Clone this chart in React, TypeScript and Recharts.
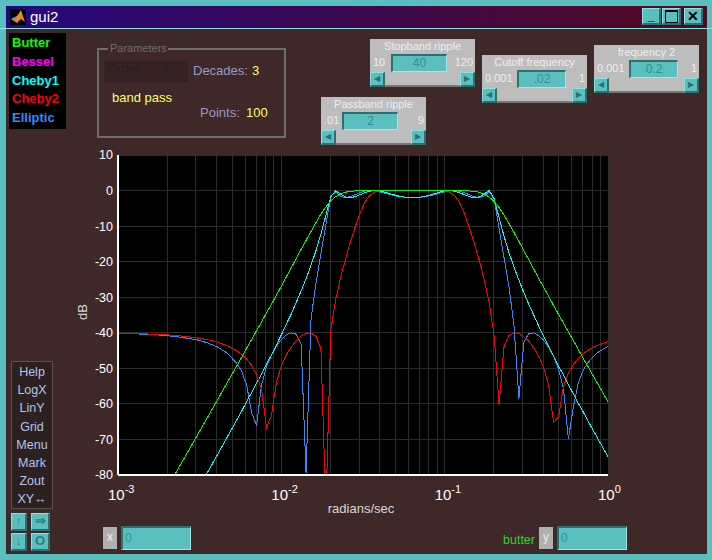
import { LineChart, Line, XAxis, YAxis, CartesianGrid } from 'recharts'
import type { CSSProperties, ReactNode } from 'react'

const FREQ = [
  0.001, 0.00132, 0.00175, 0.00231, 0.00305, 0.00351, 0.00404, 0.00464, 0.00534, 0.00572, 0.00614, 0.00658,
  0.00705, 0.00756, 0.00811, 0.0087, 0.00933, 0.01, 0.01072, 0.0115, 0.01233, 0.01322, 0.01417, 0.0152,
  0.0163, 0.01748, 0.01874, 0.02009, 0.02154, 0.0231, 0.02477, 0.02656, 0.02848, 0.03054, 0.03275, 0.03511,
  0.03765, 0.04037, 0.04329, 0.04642, 0.04977, 0.05337, 0.05722, 0.06136, 0.06579, 0.07055, 0.07565, 0.08111,
  0.08697, 0.09326, 0.1, 0.1072, 0.115, 0.1233, 0.1322, 0.1417, 0.152, 0.163, 0.1748, 0.1874,
  0.2009, 0.2154, 0.231, 0.2477, 0.2656, 0.2848, 0.3054, 0.3275, 0.3511, 0.3765, 0.4037, 0.4329,
  0.4642, 0.4977, 0.5337, 0.5722, 0.6136, 0.6579, 0.7055, 0.7565, 0.8111, 0.8697, 0.9326, 1,
]

const BUTTER = [
  -107.7, -98.1, -88.3, -78.6, -68.9, -64, -59.1, -54.2, -49.3, -46.9, -44.3, -41.9,
  -39.4, -37, -34.4, -32, -29.4, -26.9, -24.3, -21.7, -19.1, -16.5, -14, -11.5,
  -9, -6.6, -4.6, -2.9, -1.7, -0.9, -0.45, -0.21, -0.1, -0.04, 0, 0,
  0, 0, 0, 0, 0, 0, 0, 0, 0, 0, 0, 0,
  0, 0, 0, 0, 0, 0, -0.05, -0.11, -0.24, -0.5, -1, -1.84,
  -3.1, -4.8, -6.9, -9.3, -11.8, -14.3, -16.9, -19.5, -22.1, -24.7, -27.2, -29.7,
  -32.3, -34.8, -37.3, -39.8, -42.2, -44.7, -47.2, -49.6, -52.1, -54.5, -57, -59.4,
]

const CHEBY1 = [
  -123.4, -113.8, -104, -94.2, -84.4, -79.5, -74.5, -69.5, -64.5, -62, -59.3, -56.8,
  -54.2, -51.6, -48.8, -46.2, -43.4, -40.6, -37.6, -34.7, -31.5, -28.2, -24.8, -21,
  -16.9, -12.2, -6.95, -1.7, -0.03, -1.07, -1.86, -2, -1.68, -1.12, -0.56, -0.15,
  0, -0.14, -0.48, -0.9, -1.31, -1.64, -1.87, -1.99, -1.98, -1.85, -1.6, -1.26,
  -0.85, -0.43, -0.11, 0, -0.19, -0.64, -1.2, -1.72, -2, -1.78, -0.93, 0,
  -2.29, -7.6, -12.9, -17.5, -21.5, -25.2, -28.7, -32, -35, -38.1, -41, -43.8,
  -46.6, -49.3, -51.9, -54.6, -57.2, -59.8, -62.3, -64.9, -67.4, -69.9, -72.4, -74.9,
]

const CHEBY2 = [
  -40.14, -40.25, -40.44, -40.78, -41.4, -41.9, -42.6, -43.6, -45.06, -46.07, -47.4, -49.2,
  -51.75, -55.8, -66.6, -63.3, -53.9, -49.3, -46.2, -44, -42.2, -40.9, -40.2, -40.04,
  -41, -44.5, -90, -39.2, -30.6, -24.4, -19, -14.3, -9.9, -6, -3, -1.2,
  -0.39, -0.11, -0.02, 0, 0, 0, 0, 0, 0, 0, 0, 0,
  0, -0.02, -0.13, -0.45, -1.39, -3.35, -6.47, -10.5, -14.9, -19.7, -25.1, -31.6,
  -40.9, -60.3, -43.7, -40.8, -40, -40.2, -41.1, -42.4, -44.2, -46.6, -49.8, -54.7,
  -65.2, -63.6, -55.2, -51.3, -48.9, -47.2, -45.9, -44.9, -44.1, -43.5, -43, -42.5,
]

const ELLIPTIC = [
  -40.18, -40.33, -40.6, -41.1, -42, -42.8, -43.9, -45.66, -48.6, -50.85, -54.8, -62.5,
  -66.1, -54.8, -49.5, -46.3, -43.8, -41.9, -40.6, -40, -40.4, -43.2, -79.5, -36.1,
  -26, -17.7, -9.6, -1.58, -0.37, -1.65, -1.98, -1.69, -1.11, -0.53, -0.12, 0,
  -0.13, -0.43, -0.79, -1.16, -1.48, -1.73, -1.89, -1.97, -1.97, -1.88, -1.7, -1.44,
  -1.11, -0.74, -0.38, -0.1, 0, -0.17, -0.59, -1.2, -1.75, -1.99, -1.54, -0.19,
  -2.46, -10.6, -18.9, -27.2, -37.8, -58.5, -42.6, -40.2, -40.05, -40.8, -42.1, -44.1,
  -46.6, -50.1, -55.6, -69.9, -60.8, -54, -50.5, -48.3, -46.7, -45.5, -44.6, -43.9,
]

const X_TICKS = [
  0.001, 0.002, 0.003, 0.004, 0.005, 0.006, 0.007, 0.008, 0.009,
  0.01, 0.02, 0.03, 0.04, 0.05, 0.06, 0.07, 0.08, 0.09,
  0.1, 0.2, 0.3, 0.4, 0.5, 0.6, 0.7, 0.8, 0.9, 1,
]
const X_LABELS: Record<number, string> = { 0.001: '-3', 0.01: '-2', 0.1: '-1', 1: '0' }
const Y_TICKS = [-80, -70, -60, -50, -40, -30, -20, -10, 0, 10]

const LEGEND_ITEMS = [
  ['Butter', '#00ff00'],
  ['Bessel', '#ff00ff'],
  ['Cheby1', '#00ffff'],
  ['Cheby2', '#ff0000'],
  ['Elliptic', '#2f8cff'],
]
const MENU_ITEMS = ['Help', 'LogX', 'LinY', 'Grid', 'Menu', 'Mark', 'Zout', 'XY\u2194']

const chartData = FREQ.map((f, i) => ({
  f,
  butter: BUTTER[i],
  cheby1: CHEBY1[i],
  cheby2: CHEBY2[i],
  elliptic: ELLIPTIC[i],
}))

const TEAL = '#5bbfbf'
const FONT = '"Liberation Sans", Arial, sans-serif'

function XTick({ x, y, payload }: any) {
  const exp = X_LABELS[payload.value]
  if (exp === undefined) return null
  return (
    <text x={x - 10} y={y + 17} fill="#fff" fontSize={15} fontFamily={FONT}>
      10
      <tspan dy={-7} fontSize={11}>{exp}</tspan>
    </text>
  )
}

function Box({ x, y, w, h, style, children }: { x: number; y: number; w: number; h: number; style?: CSSProperties; children?: ReactNode }) {
  return <div style={{ position: 'absolute', left: x, top: y, width: w, height: h, ...style }}>{children}</div>
}

function Label({ x, y, color, size = 13, bold, children }: { x: number; y: number; color: string; size?: number; bold?: boolean; children: ReactNode }) {
  return (
    <div style={{ position: 'absolute', left: x, top: y, color, fontSize: size, fontWeight: bold ? 700 : 400, lineHeight: '16px', whiteSpace: 'nowrap' }}>
      {children}
    </div>
  )
}

const raised: CSSProperties = {
  background: TEAL,
  boxSizing: 'border-box',
  borderTop: '1px solid #8fe0e0',
  borderLeft: '1px solid #8fe0e0',
  borderRight: '2px solid #2f6f6f',
  borderBottom: '2px solid #2f6f6f',
}
const sunken: CSSProperties = {
  background: TEAL,
  boxSizing: 'border-box',
  borderTop: '2px solid #2f6f6f',
  borderLeft: '2px solid #2f6f6f',
  borderRight: '1px solid #9fe8e8',
  borderBottom: '1px solid #9fe8e8',
}

function Slider({ x, y, title, min, max, value, editX, editW }: { x: number; y: number; title: string; min: string; max: string; value: string; editX: number; editW: number }) {
  return (
    <Box x={x} y={y} w={105} h={48} style={{ background: '#bdbdbd' }}>
      <div style={{ position: 'absolute', left: 0, top: 0, width: 105, textAlign: 'center', color: '#eeeeee', fontSize: 11, lineHeight: '15px' }}>{title}</div>
      <div style={{ position: 'absolute', left: 3, top: 16, color: '#eeeeee', fontSize: 11, lineHeight: '15px' }}>{min}</div>
      <div style={{ position: 'absolute', right: 2, top: 16, color: '#eeeeee', fontSize: 11, lineHeight: '15px' }}>{max}</div>
      <Box x={editX} y={15} w={editW} h={18} style={{ ...sunken, textAlign: 'center', color: '#2f9090', fontSize: 12, lineHeight: '15px' }}>{value}</Box>
      <Box x={0} y={33} w={15} h={15} style={{ ...raised, color: '#2f6f6f', fontSize: 8, lineHeight: '12px', textAlign: 'center' }}>{'\u25C0'}</Box>
      <Box x={90} y={33} w={15} h={15} style={{ ...raised, color: '#2f6f6f', fontSize: 8, lineHeight: '12px', textAlign: 'center' }}>{'\u25B6'}</Box>
      <Box x={15} y={46} w={75} h={2} style={{ background: '#777' }} />
    </Box>
  )
}

function SmallButton({ x, y, w = 19, children }: { x: number; y: number; w?: number; children: ReactNode }) {
  return <Box x={x} y={y} w={w} h={18} style={{ ...raised, color: '#2f7f7f', fontSize: 13, fontWeight: 700, lineHeight: '14px', textAlign: 'center' }}>{children}</Box>
}

function GuiChrome() {
  return (
    <>
      <Box x={6} y={6} w={701} h={22} style={{ background: 'linear-gradient(90deg, #26087e, #530a20)' }} />
      <Box x={0} y={28} w={712} h={1} style={{ background: '#8fe0e0' }} />
      <Box x={10} y={9} w={16} h={16} style={{ background: '#000' }}>
        <svg width={16} height={16}>
          <polygon points="1,10 7,7 11,1 15,13 11,10 7,14" fill="#e8862a" />
          <polygon points="1,10 7,7 6,11" fill="#4aa0b8" />
        </svg>
      </Box>
      <Label x={30} y={9} color="#ffffff" size={15}>gui2</Label>
      <Box x={642} y={8} w={19} h={17} style={{ ...raised, color: '#000', fontSize: 13, fontWeight: 700, lineHeight: '14px', textAlign: 'center' }}>_</Box>
      <Box x={662} y={8} w={19} h={17} style={raised}>
        <div style={{ position: 'absolute', left: 2, top: 1, width: 11, height: 10, border: '1px solid #000', borderTopWidth: 2 }} />
      </Box>
      <Box x={684} y={8} w={19} h={17} style={{ ...raised, color: '#000', fontSize: 14, fontWeight: 700, lineHeight: '14px', textAlign: 'center' }}>{'\u2715'}</Box>

      <Box x={9} y={33} w={57} h={96} style={{ background: '#000' }} />
      {LEGEND_ITEMS.map(([name, color], i) => (
        <Label key={name} x={12} y={35 + i * 18.8} color={color} bold>{name}</Label>
      ))}

      <Box x={97} y={48} w={189} h={90} style={{ border: '2px solid #6e6e6e', boxSizing: 'border-box' }} />
      <Box x={108} y={42} w={60} h={12} style={{ background: '#3e2828' }} />
      <Label x={110} y={40} color="#6f6f6f" size={11}>Parameters</Label>
      <Box x={104} y={61} w={84} h={21} style={{ background: '#352222' }} />
      <Label x={107} y={61} color="#2b1d1d">Order:</Label>
      <Label x={162} y={61} color="#2b1d1d">4</Label>
      <Label x={193} y={63} color="#9a9ac8">Decades:</Label>
      <Label x={252} y={63} color="#ffff66">3</Label>
      <Label x={112} y={90} color="#ffff66">band pass</Label>
      <Label x={200} y={105} color="#9a9ac8">Points:</Label>
      <Label x={246} y={105} color="#ffff66">100</Label>

      <Slider x={370} y={39} title="Stopband ripple" min="10" max="120" value="40" editX={21} editW={56} />
      <Slider x={482} y={55} title="Cutoff frequency" min="0.001" max="1" value=".02" editX={35} editW={49} />
      <Slider x={594} y={45} title="frequency 2" min="0.001" max="1" value="0.2" editX={35} editW={49} />
      <Slider x={321} y={97} title="Passband ripple" min=".01" max="9" value="2" editX={21} editW={56} />

      <Box x={11} y={361} w={42} h={148} style={{ background: '#2f2020', border: '1px solid #5a5050', boxSizing: 'border-box' }}>
        {MENU_ITEMS.map((item, i) => (
          <div key={item} style={{ position: 'absolute', left: 0, width: 40, top: 2 + i * 18.2, textAlign: 'center', color: '#b0c4f0', fontSize: 12.5, lineHeight: '16px' }}>{item}</div>
        ))}
      </Box>
      <SmallButton x={11} y={513} w={16}>{'\u2191'}</SmallButton>
      <SmallButton x={31} y={513}>{'\u21D2'}</SmallButton>
      <SmallButton x={11} y={533} w={16}>{'\u2193'}</SmallButton>
      <SmallButton x={31} y={533}>O</SmallButton>

      <Box x={103} y={527} w={14} h={22} style={{ background: '#b0b0b0', color: '#eee', fontSize: 12, lineHeight: '21px', textAlign: 'center' }}>x</Box>
      <Box x={121} y={526} w={70} h={24} style={{ ...sunken, color: '#2f9090', fontSize: 12, lineHeight: '20px', paddingLeft: 2 }}>0</Box>
      <Label x={503} y={532} color="#22dd22" size={12.5}>butter</Label>
      <Box x={539} y={527} w={14} h={22} style={{ background: '#b0b0b0', color: '#eee', fontSize: 12, lineHeight: '21px', textAlign: 'center' }}>y</Box>
      <Box x={557} y={526} w={70} h={24} style={{ ...sunken, color: '#2f9090', fontSize: 12, lineHeight: '20px', paddingLeft: 2 }}>0</Box>
    </>
  )
}

export default function App() {
  return (
    <div style={{ position: 'absolute', left: 0, top: 0, width: 712, height: 560, overflow: 'hidden', background: TEAL, fontFamily: FONT }}>
      <Box x={6} y={29} w={701} h={525} style={{ background: '#3e2828' }} />
      <GuiChrome />
      <div style={{ position: 'absolute', left: 0, top: 0 }}>
        <LineChart width={712} height={560} data={chartData} margin={{ top: 155, right: 104, bottom: 55, left: 70 }}>
          <CartesianGrid stroke="#2c2c2c" fill="#000" strokeWidth={1} shapeRendering="crispEdges" />
          <XAxis
            dataKey="f"
            type="number"
            scale="log"
            domain={[0.001, 1]}
            ticks={X_TICKS}
            interval={0}
            allowDataOverflow
            height={30}
            stroke="#fff"
            strokeWidth={2}
            tickLine={false}
            tick={<XTick />}
            label={{ value: 'radians/sec', position: 'insideBottom', offset: -8, dx: -2, fill: '#d8d8d8', fontSize: 13, fontFamily: FONT }}
          />
          <XAxis xAxisId="top" orientation="top" dataKey="f" type="number" scale="log" domain={[0.001, 1]} height={0} stroke="#fff" strokeWidth={2} tick={false} tickLine={false} />
          <YAxis
            type="number"
            domain={[-80, 10]}
            ticks={Y_TICKS}
            interval={0}
            allowDataOverflow
            width={48}
            stroke="#fff"
            strokeWidth={2}
            tickLine={false}
            tickSize={0}
            tickMargin={5}
            tick={{ fill: '#fff', fontSize: 12.5, fontFamily: FONT }}
            label={{ value: 'dB', angle: -90, position: 'insideLeft', offset: 12, dy: 5, fill: '#d8d8d8', fontSize: 13, fontFamily: FONT }}
          />
          <YAxis yAxisId="right" orientation="right" type="number" domain={[-80, 10]} width={0} stroke="#fff" strokeWidth={2} tick={false} tickLine={false} />
          <Line type="linear" dataKey="elliptic" stroke="#2f8cff" strokeWidth={1} dot={false} isAnimationActive={false} shapeRendering="crispEdges" />
          <Line type="linear" dataKey="cheby1" stroke="#00ffff" strokeWidth={1} dot={false} isAnimationActive={false} shapeRendering="crispEdges" />
          <Line type="linear" dataKey="cheby2" stroke="#ff0000" strokeWidth={1} dot={false} isAnimationActive={false} shapeRendering="crispEdges" />
          <Line type="linear" dataKey="butter" stroke="#00ff00" strokeWidth={1} dot={false} isAnimationActive={false} shapeRendering="crispEdges" />
        </LineChart>
      </div>
    </div>
  )
}
